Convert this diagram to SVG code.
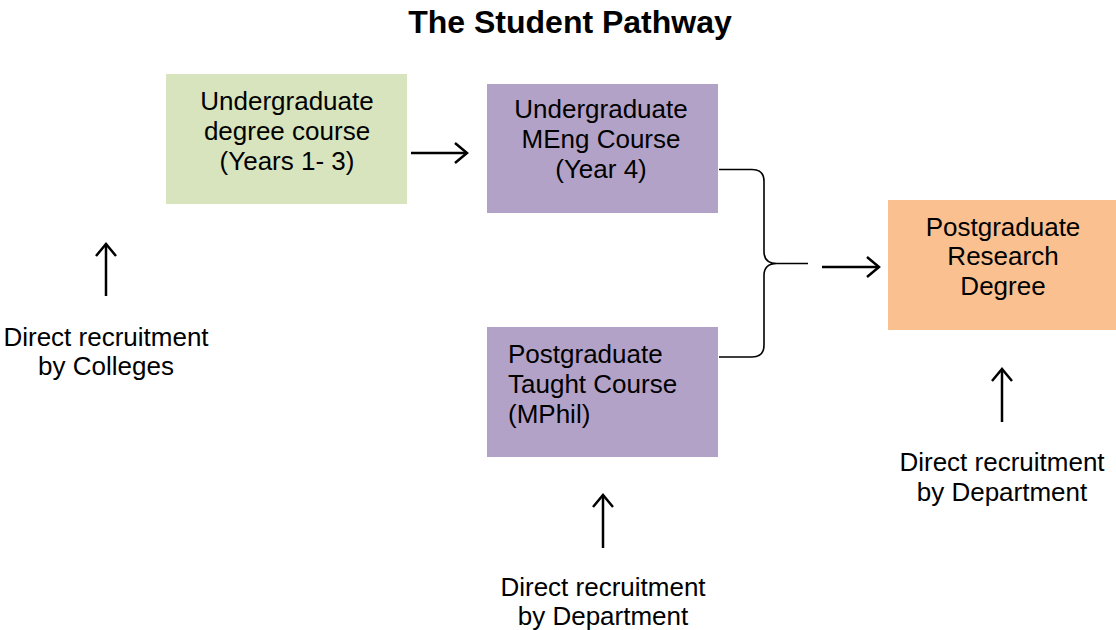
<svg xmlns="http://www.w3.org/2000/svg" width="1116" height="630" viewBox="0 0 1116 630">
<style>
text{font-family:"Liberation Sans",Arial,sans-serif;font-size:26px;fill:#000}
.title{font-size:32px;font-weight:bold}
.c{text-anchor:middle}
.green{fill:#D7E4BD}
.purple{fill:#B3A2C7}
.orange{fill:#FAC090}
.ln{stroke:#000;stroke-width:2.5;fill:none}
.brace{stroke:#000;stroke-width:1.6;fill:none}
</style>
<defs>
<marker id="arr" markerUnits="userSpaceOnUse" markerWidth="30" markerHeight="30" viewBox="-15 -15 30 30" refX="0" refY="0" orient="auto">
<path d="M-12,-10 L0,0 L-12,10" fill="none" stroke="#000" stroke-width="2.5" stroke-linejoin="miter"/>
</marker>
</defs>
<rect width="1116" height="630" fill="#fff"/>
<text class="title c" x="570" y="33">The Student Pathway</text>

<g id="ug-degree">
<rect class="green" x="166" y="74" width="241" height="130"/>
<text class="c"><tspan x="287" y="110">Undergraduate</tspan><tspan x="287" y="140">degree course</tspan><tspan x="287" y="170">(Years 1- 3)</tspan></text>
</g>
<g id="ug-meng">
<rect class="purple" x="487" y="84" width="231" height="129"/>
<text class="c"><tspan x="601" y="118">Undergraduate</tspan><tspan x="601" y="148">MEng Course</tspan><tspan x="601" y="178">(Year 4)</tspan></text>
</g>
<g id="pg-taught">
<rect class="purple" x="487" y="327" width="231" height="130"/>
<text><tspan x="508" y="363">Postgraduate</tspan><tspan x="508" y="393">Taught Course</tspan><tspan x="508" y="423">(MPhil)</tspan></text>
</g>
<g id="pg-research">
<rect class="orange" x="888" y="200" width="228" height="130"/>
<text class="c"><tspan x="1003" y="236">Postgraduate</tspan><tspan x="1003" y="265">Research</tspan><tspan x="1003" y="295">Degree</tspan></text>
</g>
<g id="label-colleges">
<text class="c"><tspan x="106" y="346">Direct recruitment</tspan><tspan x="106" y="375">by Colleges</tspan></text>
</g>
<g id="label-dept-taught">
<text class="c"><tspan x="603" y="596">Direct recruitment</tspan><tspan x="603" y="625">by Department</tspan></text>
</g>
<g id="label-dept-research">
<text class="c"><tspan x="1002" y="471">Direct recruitment</tspan><tspan x="1002" y="501">by Department</tspan></text>
</g>

<g id="connectors">
<line class="ln" x1="411" y1="153" x2="467" y2="153" marker-end="url(#arr)"/>
<line class="ln" x1="822" y1="267" x2="879" y2="267" marker-end="url(#arr)"/>
<line class="ln" x1="106" y1="296" x2="106" y2="244" marker-end="url(#arr)"/>
<line class="ln" x1="1002" y1="422" x2="1002" y2="369" marker-end="url(#arr)"/>
<line class="ln" x1="603" y1="548" x2="603" y2="495" marker-end="url(#arr)"/>
<path class="brace" d="M719,169.5 L752,169.5 Q764,169.5 764,181.5 L764,251.5 Q764,263.5 777,263.5 L808,263.5 M777,263.5 Q764,263.5 764,275.5 L764,345 Q764,357 752,357 L719,357"/>
</g>
</svg>
